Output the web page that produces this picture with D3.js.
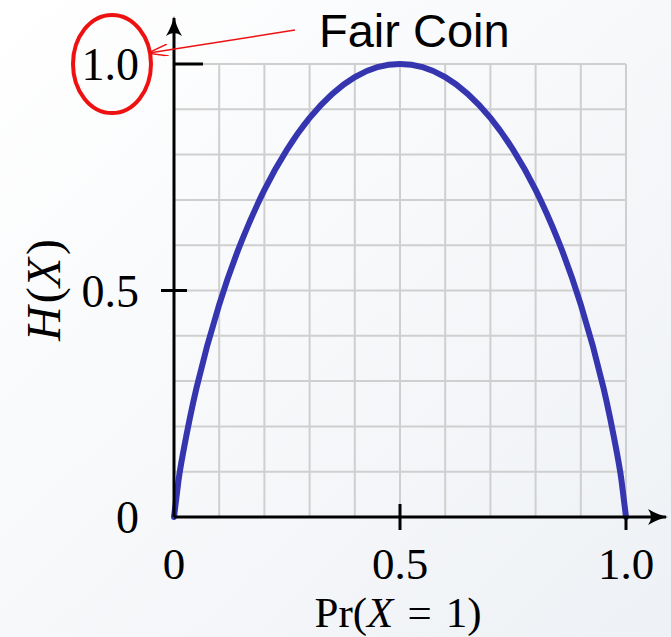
<!DOCTYPE html>
<html>
<head>
<meta charset="utf-8">
<script src="https://cdn.jsdelivr.net/npm/d3@7"></script>
<style>
  html, body { margin: 0; padding: 0; }
  body { width: 671px; height: 637px; overflow: hidden; }
</style>
</head>
<body>
<svg id="chart" width="671" height="637"></svg>
<script>
// Probability of X = 1, and the entropy
const probs = [0, 0.01, 0.02, 0.05, 0.1, 0.15, 0.2, 0.25, 0.3, 0.35, 0.4, 0.45, 0.5,
               0.55, 0.6, 0.65, 0.7, 0.75, 0.8, 0.85, 0.9, 0.95, 0.98, 0.99, 1];
const entropy = [0, 0.081, 0.141, 0.286, 0.469, 0.61, 0.722, 0.811, 0.881, 0.934, 0.971, 0.993, 1.0,
                 0.993, 0.971, 0.934, 0.881, 0.811, 0.722, 0.61, 0.469, 0.286, 0.141, 0.081, 0];
const xTickValues = [0, 0.5, 1.0];
const xTickLabels = ["0", "0.5", "1.0"];
const yTickValues = [0, 0.5, 1.0];
const yTickLabels = ["0", "0.5", "1.0"];
const gridValues = d3.range(0, 11).map(i => i / 10);

const svg = d3.select("#chart");
const serif = "'Liberation Serif', 'DejaVu Serif', serif";

// Background: faint gradient, like a slide
const defs = svg.append("defs");
const grad = defs.append("linearGradient")
    .attr("id", "bg")
    .attr("x1", "0").attr("y1", "0")
    .attr("x2", "1").attr("y2", "1");
grad.append("stop").attr("offset", "0%").attr("stop-color", "#ffffff");
grad.append("stop").attr("offset", "100%").attr("stop-color", "#eef1f5");
svg.append("rect").attr("width", 671).attr("height", 637).attr("fill", "url(#bg)");

const x = d3.scaleLinear().domain([0, 1]).range([174, 626]);
const y = d3.scaleLinear().domain([0, 1]).range([517, 64]);

// Grid
svg.append("g")
    .selectAll("line")
    .data(gridValues)
    .enter()
    .append("line")
    .attr("x1", d => x(d)).attr("x2", d => x(d))
    .attr("y1", y(0)).attr("y2", y(1))
    .attr("stroke", "#cfcfcf")
    .attr("stroke-width", 2);

svg.append("g")
    .selectAll("line")
    .data(gridValues)
    .enter()
    .append("line")
    .attr("x1", x(0)).attr("x2", x(1))
    .attr("y1", d => y(d)).attr("y2", d => y(d))
    .attr("stroke", "#cfcfcf")
    .attr("stroke-width", 2);

// Curve
const line = d3.line()
    .x((d, i) => x(probs[i]))
    .y(d => y(d))
    .curve(d3.curveNatural);

svg.append("path")
    .datum(entropy)
    .attr("d", line)
    .attr("fill", "none")
    .attr("stroke", "#3535b0")
    .attr("stroke-width", 6)
    .attr("stroke-linecap", "round");

// Axes with arrow heads
defs.append("marker")
    .attr("id", "arrow")
    .attr("viewBox", "0 0 20 20")
    .attr("refX", 18).attr("refY", 10)
    .attr("markerWidth", 20).attr("markerHeight", 20)
    .attr("markerUnits", "userSpaceOnUse")
    .attr("orient", "auto")
    .append("path")
    .attr("d", "M0,2 Q10,8 20,10 Q10,12 0,18 Q6,10 0,2 Z")
    .attr("fill", "#000");

svg.append("line")
    .attr("x1", x(0)).attr("y1", y(0))
    .attr("x2", 666).attr("y2", y(0))
    .attr("stroke", "#000").attr("stroke-width", 3)
    .attr("marker-end", "url(#arrow)");

svg.append("line")
    .attr("x1", x(0)).attr("y1", y(0))
    .attr("x2", x(0)).attr("y2", 18)
    .attr("stroke", "#000").attr("stroke-width", 3)
    .attr("marker-end", "url(#arrow)");

// Tick marks
svg.append("line")
    .attr("x1", x(0.5)).attr("x2", x(0.5))
    .attr("y1", y(0) - 13).attr("y2", y(0) + 13)
    .attr("stroke", "#000").attr("stroke-width", 3);
svg.append("line")
    .attr("x1", x(1)).attr("x2", x(1))
    .attr("y1", y(0)).attr("y2", y(0) + 13)
    .attr("stroke", "#000").attr("stroke-width", 3);
svg.append("line")
    .attr("x1", x(0) - 13).attr("x2", x(0) + 13)
    .attr("y1", y(0.5)).attr("y2", y(0.5))
    .attr("stroke", "#000").attr("stroke-width", 3);
svg.append("line")
    .attr("x1", x(0)).attr("x2", x(0) + 29)
    .attr("y1", y(1)).attr("y2", y(1))
    .attr("stroke", "#000").attr("stroke-width", 3);

// Tick labels
svg.append("g")
    .selectAll("text")
    .data(xTickValues)
    .enter()
    .append("text")
    .attr("x", d => x(d))
    .attr("y", 579)
    .attr("text-anchor", "middle")
    .style("font-family", serif)
    .style("font-size", "45px")
    .text((d, i) => xTickLabels[i]);

svg.append("g")
    .selectAll("text")
    .data(yTickValues)
    .enter()
    .append("text")
    .attr("x", 139)
    .attr("y", d => y(d) + 16)
    .attr("text-anchor", "end")
    .style("font-family", serif)
    .style("font-size", "46px")
    .text((d, i) => yTickLabels[i]);

// Axis titles
const xTitle = svg.append("text")
    .attr("x", 398).attr("y", 627)
    .attr("text-anchor", "middle")
    .style("font-family", serif)
    .style("font-size", "43px");
xTitle.append("tspan").text("Pr(");
xTitle.append("tspan").style("font-style", "italic").text("X");
xTitle.append("tspan").attr("dx", 14).text("=");
xTitle.append("tspan").attr("dx", 14).text("1)");

const yTitle = svg.append("text")
    .attr("transform", "translate(60,290) rotate(-90)")
    .attr("text-anchor", "middle")
    .style("font-family", serif)
    .style("font-size", "48px");
yTitle.append("tspan").style("font-style", "italic").text("H");
yTitle.append("tspan").attr("dx", 3).text("(");
yTitle.append("tspan").style("font-style", "italic").text("X");
yTitle.append("tspan").attr("dx", 3).text(")");

// Annotation: circled label and arrow
svg.append("ellipse")
    .attr("cx", 112).attr("cy", 64)
    .attr("rx", 39).attr("ry", 49)
    .attr("fill", "none")
    .attr("stroke", "#ee1111")
    .attr("stroke-width", 4);

defs.append("marker")
    .attr("id", "redArrow")
    .attr("viewBox", "0 0 20 12")
    .attr("refX", 19).attr("refY", 6)
    .attr("markerWidth", 20).attr("markerHeight", 12)
    .attr("markerUnits", "userSpaceOnUse")
    .attr("orient", "auto")
    .append("path")
    .attr("d", "M0,0 L20,6 L0,12")
    .attr("fill", "none")
    .attr("stroke", "#ee1111")
    .attr("stroke-width", 1.5);

svg.append("line")
    .attr("x1", 295).attr("y1", 30)
    .attr("x2", 149).attr("y2", 53)
    .attr("stroke", "#ee1111")
    .attr("stroke-width", 1.5)
    .attr("marker-end", "url(#redArrow)");

svg.append("text")
    .attr("x", 319).attr("y", 47)
    .style("font-family", "'Liberation Sans', Arial, sans-serif")
    .style("font-size", "47px")
    .attr("fill", "#000")
    .text("Fair Coin");
</script>
</body>
</html>
